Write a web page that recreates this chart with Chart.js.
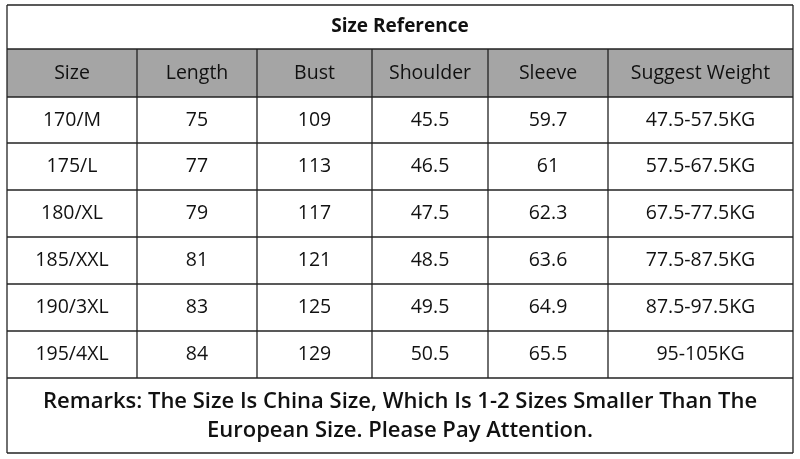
<!DOCTYPE html>
<html><head><meta charset="utf-8">
<script src="https://cdn.jsdelivr.net/npm/chart.js@4"></script>
<style>html,body{margin:0;background:#fff}#wrap{width:800px;height:459px}</style>
</head><body><div id="wrap"><canvas id="c"></canvas></div>
<script>
const title = 'Size Reference';
const headers = ['Size', 'Length', 'Bust', 'Shoulder', 'Sleeve', 'Suggest Weight'];
const sizes = ['170/M', '175/L', '180/XL', '185/XXL', '190/3XL', '195/4XL'];
const lengths = [75, 77, 79, 81, 83, 84];
const busts = [109, 113, 117, 121, 125, 129];
const shoulders = ['45.5', '46.5', '47.5', '48.5', '49.5', '50.5'];
const sleeves = ['59.7', '61', '62.3', '63.6', '64.9', '65.5'];
const weights = ['47.5-57.5KG', '57.5-67.5KG', '67.5-77.5KG', '77.5-87.5KG', '87.5-97.5KG', '95-105KG'];
const remarks = ['Remarks: The Size Is China Size, Which Is 1-2 Sizes Smaller Than The', 'European Size. Please Pay Attention.'];

// grid lines in scale units (pixels of the picture)
const colEdges = [7, 137, 257, 372, 488, 608, 793];
const rowEdges = [5, 49, 97, 143, 190, 237, 284, 331, 378, 453];

const tablePlugin = {
  id: 'table',
  afterDraw(chart) {
    const ctx = chart.ctx, x = chart.scales.x, y = chart.scales.y;
    const X = v => x.getPixelForValue(v), Y = v => y.getPixelForValue(v);
    const L = X(colEdges[0]), R = X(colEdges[colEdges.length - 1]);
    ctx.save();
    // header fill
    ctx.fillStyle = '#a5a5a5';
    ctx.fillRect(L, Y(rowEdges[1]), R - L, Y(rowEdges[2]) - Y(rowEdges[1]));
    ctx.strokeStyle = '#222'; ctx.lineWidth = 1.3;
    rowEdges.forEach(r => { ctx.beginPath(); ctx.moveTo(L, Y(r)); ctx.lineTo(R, Y(r)); ctx.stroke(); });
    ctx.beginPath(); ctx.moveTo(L, Y(rowEdges[0])); ctx.lineTo(L, Y(rowEdges[9])); ctx.stroke();
    ctx.beginPath(); ctx.moveTo(R, Y(rowEdges[0])); ctx.lineTo(R, Y(rowEdges[9])); ctx.stroke();
    colEdges.slice(1, -1).forEach(c => { ctx.beginPath(); ctx.moveTo(X(c), Y(rowEdges[1])); ctx.lineTo(X(c), Y(rowEdges[8])); ctx.stroke(); });
    ctx.fillStyle = '#111'; ctx.textAlign = 'center'; ctx.textBaseline = 'middle';
    const midY = i => (Y(rowEdges[i]) + Y(rowEdges[i + 1])) / 2;
    const midX = j => (X(colEdges[j]) + X(colEdges[j + 1])) / 2;
    ctx.font = 'bold 19px "Open Sans", sans-serif';
    ctx.fillText(title, (L + R) / 2, midY(0));
    ctx.font = '19.5px "Open Sans", sans-serif';
    headers.forEach((h, j) => ctx.fillText(h, midX(j), midY(1)));
    const cols = [sizes, lengths, busts, shoulders, sleeves, weights];
    sizes.forEach((_, i) => cols.forEach((col, j) => ctx.fillText(String(col[i]), midX(j), midY(i + 2))));
    ctx.font = '600 22px "Open Sans", sans-serif';
    const rTop = Y(rowEdges[8]), rBot = Y(rowEdges[9]);
    ctx.fillText(remarks[0], (L + R) / 2, rTop + (rBot - rTop) * 0.32);
    ctx.fillText(remarks[1], (L + R) / 2, rTop + (rBot - rTop) * 0.7);
    ctx.restore();
  }
};

new Chart(document.getElementById('c'), {
  type: 'scatter',
  data: { datasets: [] },
  options: {
    responsive: true, maintainAspectRatio: false, animation: false,
    layout: { padding: 0 },
    plugins: { legend: { display: false }, tooltip: { enabled: false } },
    scales: {
      x: { type: 'linear', min: 0, max: 800, display: false },
      y: { type: 'linear', min: 0, max: 459, reverse: true, display: false }
    }
  },
  plugins: [tablePlugin]
});
</script></body></html>
